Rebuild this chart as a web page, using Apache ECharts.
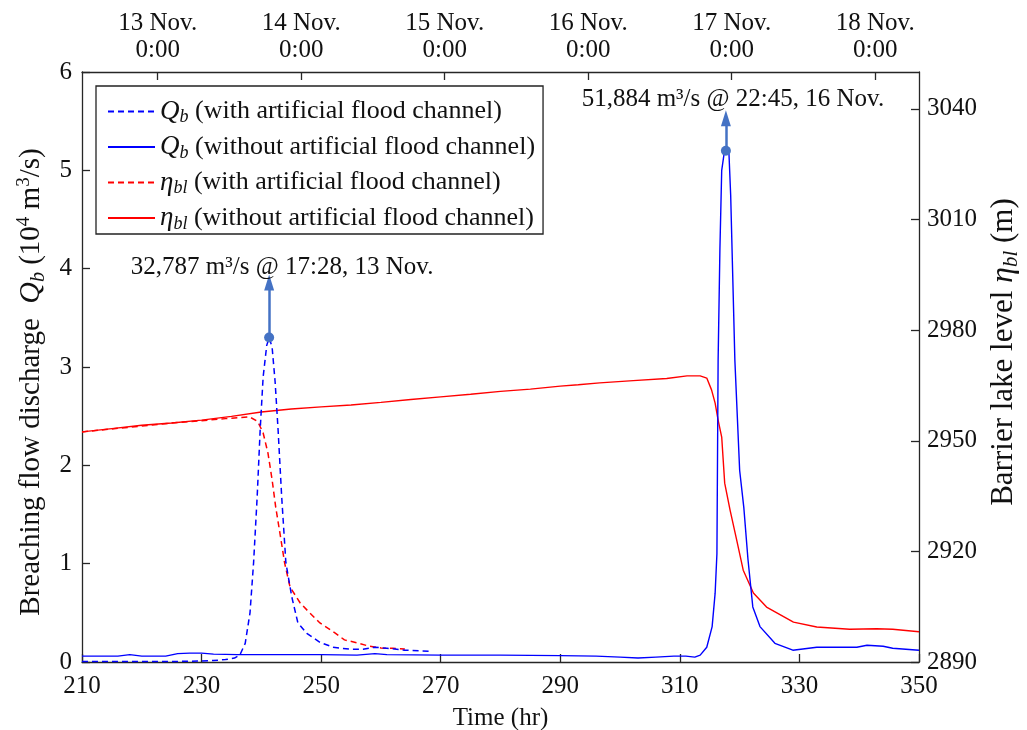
<!DOCTYPE html>
<html><head><meta charset="utf-8">
<script src="https://cdn.jsdelivr.net/npm/echarts@6/dist/echarts.min.js"></script>
<style>html,body{margin:0;padding:0;background:#fff}#c{width:1027px;height:730px}</style>
</head><body><div id="c"></div>
<script>
// ---------------- data ----------------
// Q_b with artificial flood channel (10^4 m^3/s)
const qWithT = [210, 215, 220, 225, 230, 232, 234, 235.5, 236.4, 237.3, 238.1, 238.7, 239.3, 239.8, 240.3, 240.9, 241.3, 241.8, 242.3, 242.8, 243.4, 244.1, 245.1, 246.1, 247.6, 249.8, 252, 254.8, 257, 259, 261, 264, 268];
const qWithV = [0.005, 0.005, 0.005, 0.005, 0.01, 0.015, 0.025, 0.04, 0.07, 0.19, 0.50, 1.01, 1.68, 2.36, 2.90, 3.22, 3.30, 3.20, 2.85, 2.36, 1.68, 1.01, 0.66, 0.40, 0.29, 0.20, 0.15, 0.13, 0.13, 0.15, 0.14, 0.12, 0.11];
// Q_b without artificial flood channel
const qWithoutT = [210, 214, 216, 218, 220, 224, 226, 228, 230, 232, 236, 240, 250, 256, 259, 261, 270, 280, 290, 296, 300, 303, 306, 309, 311, 312.5, 313.4, 314.5, 315.4, 315.9, 316.2, 316.4, 316.7, 317.0, 317.4, 317.7, 318.2, 318.5, 319.2, 320.0, 320.7, 321.4, 322.2, 323.4, 325.9, 328.9, 332.9, 336, 339.6, 341.3, 344, 345.6, 350];
const qWithoutV = [0.06, 0.06, 0.06, 0.075, 0.06, 0.06, 0.085, 0.09, 0.09, 0.08, 0.075, 0.075, 0.075, 0.07, 0.085, 0.075, 0.07, 0.07, 0.065, 0.06, 0.05, 0.04, 0.05, 0.06, 0.06, 0.05, 0.07, 0.15, 0.36, 0.70, 1.10, 3.07, 4.2, 5.0, 5.17, 5.2, 5.19, 4.75, 3.07, 1.95, 1.57, 1.04, 0.56, 0.36, 0.19, 0.12, 0.15, 0.15, 0.15, 0.17, 0.16, 0.14, 0.12];
// eta_bl with artificial flood channel (m)
const etaWithT = [210, 215, 220, 225, 229.7, 234, 238, 239.4, 240.3, 241.1, 241.8, 242.4, 243.1, 243.9, 244.8, 246.5, 248.1, 249.8, 252.3, 253.9, 256, 258, 260, 262, 264];
const etaWithV = [2952.4, 2953.2, 2954.0, 2954.8, 2955.4, 2956.0, 2956.5, 2955.2, 2952.1, 2946.7, 2939.4, 2932.0, 2925.0, 2916.8, 2910.3, 2906.0, 2903.3, 2900.6, 2897.9, 2896.0, 2895.2, 2894.3, 2893.8, 2893.7, 2893.5];
// eta_bl without artificial flood channel (m)
const etaWithoutT = [210, 215, 220, 225, 230, 235, 240, 245, 250, 255, 260, 265, 270, 275, 280, 285, 290, 293, 296.6, 302.2, 307.8, 311.2, 313.4, 314.5, 315.3, 315.9, 316.4, 317.0, 317.5, 318.4, 319.5, 320.6, 322.3, 324.5, 329.0, 332.9, 338.4, 342.9, 345.6, 350];
const etaWithoutV = [2952.4, 2953.3, 2954.2, 2954.8, 2955.6, 2956.6, 2957.8, 2958.6, 2959.2, 2959.7, 2960.4, 2961.2, 2961.9, 2962.6, 2963.4, 2964.0, 2964.8, 2965.2, 2965.7, 2966.3, 2966.9, 2967.6, 2967.6, 2967.0, 2963.8, 2960.2, 2955.6, 2951.0, 2938.5, 2931.2, 2923.1, 2914.9, 2908.7, 2904.9, 2900.8, 2899.5, 2898.9, 2899.0, 2898.9, 2898.2];

// peak annotations
const annoT = [241.3, 317.7];
const annoPeak = [3.30, 5.20];
const annoTip = [3.86, 5.53];
const annoText = ['32,787 m³/s @ 17:28, 13 Nov.', '51,884 m³/s @ 22:45, 16 Nov.'];

// top date axis
const dateTickHours = [222.67, 246.67, 270.67, 294.67, 318.67, 342.67];
const dateTickLabels = ['13 Nov.\n0:00', '14 Nov.\n0:00', '15 Nov.\n0:00', '16 Nov.\n0:00', '17 Nov.\n0:00', '18 Nov.\n0:00'];

const seriesNames = ['qWith', 'qWithout', 'etaWith', 'etaWithout'];
const legendTexts = {
  qWith: '{m|Q}{s|b}{t| (with artificial flood channel)}',
  qWithout: '{m|Q}{s|b}{t| (without artificial flood channel)}',
  etaWith: '{m|η}{s|bl}{t| (with artificial flood channel)}',
  etaWithout: '{m|η}{s|bl}{t| (without artificial flood channel)}'
};

// ---------------- chart ----------------
const FONT = '"Liberation Serif","Times New Roman",serif';
const FS = 25;
const AX = '#262626';
const TXT = '#111';
const pair = (t, v) => t.map((x, i) => [x, v[i]]);
const legendRich = {
  t: {fontFamily: FONT, fontSize: 26, lineHeight: 30, color: TXT},
  m: {fontFamily: FONT, fontSize: 27, fontStyle: 'italic', lineHeight: 30, color: TXT},
  s: {fontFamily: FONT, fontSize: 18, fontStyle: 'italic', lineHeight: 16, verticalAlign: 'bottom', color: TXT}
};
function nameRich(fs) {
  return {
    t: {fontFamily: FONT, fontSize: fs, lineHeight: fs + 5, color: TXT},
    m: {fontFamily: FONT, fontSize: fs + 1, fontStyle: 'italic', lineHeight: fs + 5, color: TXT},
    s: {fontFamily: FONT, fontSize: Math.round(fs * 0.68), fontStyle: 'italic', lineHeight: 20, verticalAlign: 'bottom', color: TXT},
    p: {fontFamily: FONT, fontSize: Math.round(fs * 0.65), lineHeight: 20, verticalAlign: 'top', color: TXT}
  };
}

const chart = echarts.init(document.getElementById('c'), null, {renderer: 'canvas'});

function annoMarkLine(i, dist, pad) {
  return {
    silent: true,
    animation: false,
    symbol: ['circle', 'triangle'],
    symbolSize: [10, 16],
    lineStyle: {color: '#4472c4', width: 2.5, type: 'solid'},
    itemStyle: {color: '#4472c4'},
    label: {
      show: true, position: 'end', distance: dist,
      formatter: annoText[i],
      fontFamily: FONT, fontSize: FS, color: TXT,
      padding: [0, 0, 0, pad]
    },
    data: [[{coord: [annoT[i], annoPeak[i]]}, {coord: [annoT[i], annoTip[i]]}]]
  };
}

const lineCommon = {type: 'line', showSymbol: false, symbol: 'none', animation: false, smooth: false};

chart.setOption({
  backgroundColor: '#fff',
  grid: {left: 82, right: 108, top: 72, bottom: 68, containLabel: false, outerBoundsMode: 'none'},
  legend: {
    data: seriesNames,
    orient: 'vertical',
    left: 96, top: 86,
    backgroundColor: '#fff',
    borderColor: '#222', borderWidth: 1.3,
    padding: [12, 8, 1, 11],
    itemGap: 7,
    itemWidth: 47, itemHeight: 14,
    itemStyle: {color: 'rgba(0,0,0,0)', borderColor: 'rgba(0,0,0,0)', borderWidth: 0, opacity: 0},
    formatter: n => legendTexts[n],
    textStyle: {rich: legendRich, fontFamily: FONT, fontSize: 26}
  },
  xAxis: [
    {
      type: 'value', position: 'bottom', min: 210, max: 350, interval: 20,
      name: 'Time (hr)', nameLocation: 'middle', nameGap: 44,
      nameTextStyle: {fontFamily: FONT, fontSize: FS, color: TXT},
      axisLine: {lineStyle: {color: AX, width: 1.3}},
      axisTick: {inside: true, length: 8, lineStyle: {color: AX, width: 1.3}},
      axisLabel: {fontFamily: FONT, fontSize: FS, color: TXT, margin: 12},
      splitLine: {show: false}
    },
    {
      type: 'value', position: 'top', min: 210, max: 350,
      axisLine: {lineStyle: {color: AX, width: 1.3}},
      axisTick: {inside: true, length: 8, lineStyle: {color: AX, width: 1.3}, customValues: dateTickHours},
      axisLabel: {
        fontFamily: FONT, fontSize: FS, color: TXT, margin: 8, lineHeight: 27,
        customValues: dateTickHours,
        formatter: v => { const k = dateTickHours.findIndex(h => Math.abs(h - v) < 0.01); return k >= 0 ? dateTickLabels[k] : ''; }
      },
      splitLine: {show: false}
    }
  ],
  yAxis: [
    {
      type: 'value', position: 'left', min: 0, max: 6, interval: 1,
      name: '{t|Breaching flow discharge  }{m|Q}{s|b}{t| (10}{p|4}{t| m}{p|3}{t|/s)}',
      nameLocation: 'middle', nameGap: 29, nameRotate: 90,
      nameTextStyle: {rich: nameRich(29), padding: [0, 30, 0, 0]},
      axisLine: {show: true, lineStyle: {color: AX, width: 1.3}},
      axisTick: {show: true, inside: true, length: 8, lineStyle: {color: AX, width: 1.3}},
      axisLabel: {fontFamily: FONT, fontSize: FS, color: TXT, margin: 10},
      splitLine: {show: false}
    },
    {
      type: 'value', position: 'right', min: 2890, max: 3050, interval: 30,
      name: '{t|Barrier lake level }{m|η}{s|bl}{t| (m)}',
      nameLocation: 'middle', nameGap: 65, nameRotate: 90,
      nameTextStyle: {rich: nameRich(31), padding: [0, 0, 0, 30]},
      axisLine: {show: true, lineStyle: {color: AX, width: 1.3}},
      axisTick: {show: true, inside: true, length: 8, lineStyle: {color: AX, width: 1.3}},
      axisLabel: {fontFamily: FONT, fontSize: FS, color: TXT, margin: 8, showMaxLabel: false,
        formatter: v => (v > 3045 ? '' : String(v))},
      splitLine: {show: false}
    }
  ],
  series: [
    Object.assign({}, lineCommon, {
      name: 'qWith', xAxisIndex: 0, yAxisIndex: 0, data: pair(qWithT, qWithV),
      lineStyle: {color: '#0000ff', width: 1.5, type: [6, 4]}, itemStyle: {color: '#0000ff'},
      z: 4, markLine: annoMarkLine(0, 2, 26)
    }),
    Object.assign({}, lineCommon, {
      name: 'qWithout', xAxisIndex: 0, yAxisIndex: 0, data: pair(qWithoutT, qWithoutV),
      lineStyle: {color: '#0000ff', width: 1.4, type: 'solid'}, itemStyle: {color: '#0000ff'},
      z: 4, markLine: annoMarkLine(1, 6, 14)
    }),
    Object.assign({}, lineCommon, {
      name: 'etaWith', xAxisIndex: 0, yAxisIndex: 1, data: pair(etaWithT, etaWithV),
      lineStyle: {color: '#ff0000', width: 1.5, type: [6, 4]}, itemStyle: {color: '#ff0000'}, z: 3
    }),
    Object.assign({}, lineCommon, {
      name: 'etaWithout', xAxisIndex: 0, yAxisIndex: 1, data: pair(etaWithoutT, etaWithoutV),
      lineStyle: {color: '#ff0000', width: 1.4, type: 'solid'}, itemStyle: {color: '#ff0000'}, z: 3
    })
  ]
});
</script>
</body></html>
